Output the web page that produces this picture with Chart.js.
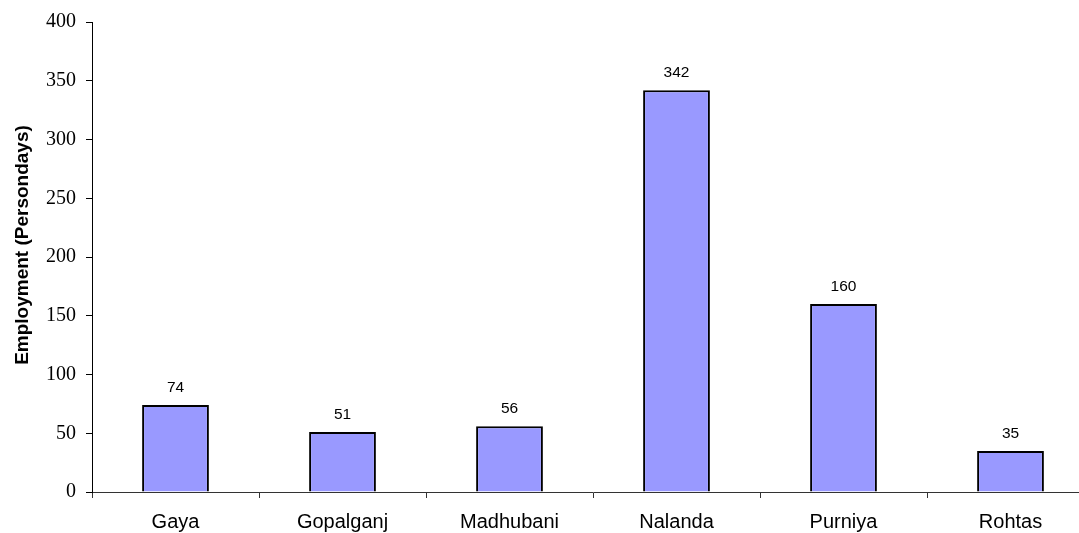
<!DOCTYPE html>
<html>
<head>
<meta charset="utf-8">
<title>Employment by district</title>
<script src="https://cdn.jsdelivr.net/npm/chart.js@4/dist/chart.umd.min.js"></script>
<style>
  html, body { margin: 0; padding: 0; background: #fff; overflow: hidden; }
  #wrap { width: 1100px; height: 533px; }
</style>
</head>
<body>
<div id="wrap"><canvas id="chart" width="1100" height="533"></canvas></div>
<script>
let districts = ["Gaya", "Gopalganj", "Madhubani", "Nalanda", "Purniya", "Rohtas"];
let persondays = [74, 51, 56, 342, 160, 35];
let yTicks = [0, 50, 100, 150, 200, 250, 300, 350, 400];
let yTitle = "Employment (Persondays)";

// value labels above each bar + the y title (sits a bit above centre in the original)
const extras = {
  id: "extras",
  afterDatasetsDraw(chart) {
    const ctx = chart.ctx;
    const meta = chart.getDatasetMeta(0);
    ctx.save();
    ctx.font = "15.5px 'Liberation Sans', Arial, sans-serif";
    ctx.fillStyle = "#000";
    ctx.textAlign = "center";
    ctx.textBaseline = "alphabetic";
    meta.data.forEach((bar, i) => {
      ctx.fillText(String(persondays[i]), bar.x, bar.y - 13);
    });

    ctx.translate(23, 245);
    ctx.rotate(-Math.PI / 2);
    ctx.font = "bold 19px 'Liberation Sans', Arial, sans-serif";
    ctx.textBaseline = "middle";
    ctx.fillText(yTitle, 0, 0);
    ctx.restore();
  }
};

const ctx = document.getElementById("chart").getContext("2d");
new Chart(ctx, {
  type: "bar",
  data: {
    labels: districts,
    datasets: [{
      data: persondays,
      backgroundColor: "#9999FF",
      borderColor: "#000",
      borderWidth: 2,
      categoryPercentage: 1,
      barPercentage: 0.4
    }]
  },
  options: {
    responsive: false,
    animation: false,
    layout: { padding: { top: 21, right: 6, bottom: 0, left: 0 } },
    plugins: { legend: { display: false }, tooltip: { enabled: false } },
    scales: {
      x: {
        grid: { offset: true, drawOnChartArea: false, tickLength: 6, color: "#333" },
        border: { color: "#333", width: 1 },
        ticks: {
          color: "#000",
          padding: 12,
          maxRotation: 0,
          font: { family: "'Liberation Sans', Arial, sans-serif", size: 20 }
        },
        afterFit: s => { s.height = 41; }
      },
      y: {
        min: 0,
        max: 400,
        afterBuildTicks: s => { s.ticks = yTicks.map(v => ({ value: v })); },
        grid: { drawOnChartArea: false, tickLength: 6, color: "#000" },
        border: { color: "#000", width: 1 },
        ticks: {
          color: "#000",
          padding: 10,
          font: { family: "'Liberation Serif', 'Times New Roman', serif", size: 20 }
        },
        afterFit: s => { s.width = 92; }
      }
    }
  },
  plugins: [extras]
});
</script>
</body>
</html>
